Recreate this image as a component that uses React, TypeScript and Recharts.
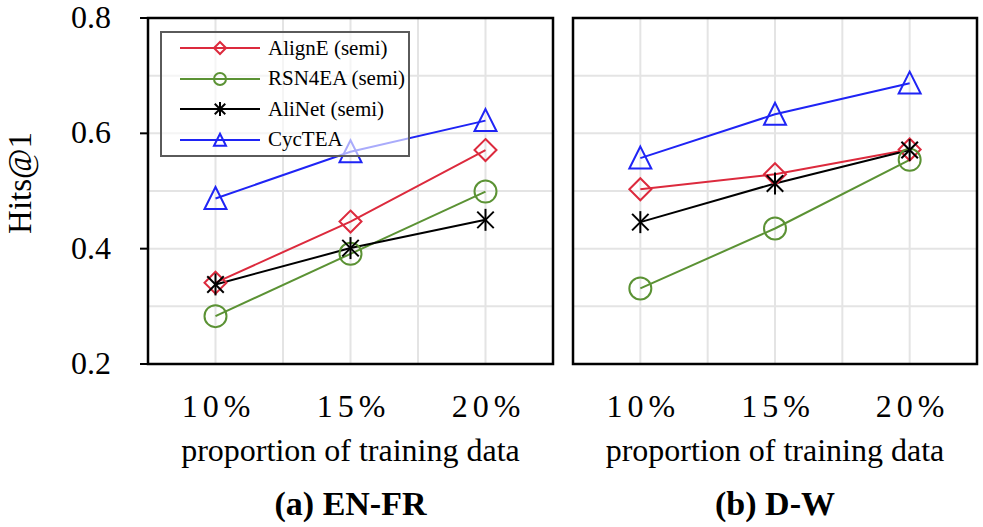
import React from "react";
import {
  LineChart,
  Line,
  XAxis,
  YAxis,
  CartesianGrid,
  Legend,
  ReferenceArea,
  Label,
} from "recharts";

const categories = ["10%", "15%", "20%"];
const xPositions = [1, 2, 3];
const xGridTicks = [1, 1.5, 2, 2.5, 3];
const yGridTicks = [0.2, 0.3, 0.4, 0.5, 0.6, 0.7, 0.8];
const yLabelTicks = [0.2, 0.4, 0.6, 0.8];

// (a) EN-FR
const enfrAlignE = [0.341, 0.447, 0.571];
const enfrRSN4EA = [0.283, 0.391, 0.499];
const enfrAliNet = [0.338, 0.401, 0.45];
const enfrCycTEA = [0.487, 0.568, 0.622];

// (b) D-W
const dwAlignE = [0.503, 0.529, 0.572];
const dwRSN4EA = [0.331, 0.435, 0.554];
const dwAliNet = [0.446, 0.513, 0.571];
const dwCycTEA = [0.557, 0.633, 0.687];

const FONT = "'Liberation Serif', 'DejaVu Serif', serif";

type MarkerKind = "diamond" | "circle" | "star" | "triangle";

const SERIES: { key: string; name: string; color: string; marker: MarkerKind }[] = [
  { key: "alignE", name: "AlignE (semi)", color: "#dc2a3d", marker: "diamond" },
  { key: "rsn4ea", name: "RSN4EA (semi)", color: "#5b9234", marker: "circle" },
  { key: "aliNet", name: "AliNet (semi)", color: "#000000", marker: "star" },
  { key: "cycTEA", name: "CycTEA", color: "#1f24f5", marker: "triangle" },
];

function buildRows(alignE: number[], rsn4ea: number[], aliNet: number[], cycTEA: number[]) {
  return xPositions.map((x, i) => ({
    x,
    label: categories[i],
    alignE: alignE[i],
    rsn4ea: rsn4ea[i],
    aliNet: aliNet[i],
    cycTEA: cycTEA[i],
  }));
}

const enfrRows = buildRows(enfrAlignE, enfrRSN4EA, enfrAliNet, enfrCycTEA);
const dwRows = buildRows(dwAlignE, dwRSN4EA, dwAliNet, dwCycTEA);

function Marker({ kind, cx, cy, color, r }: { kind: MarkerKind; cx: number; cy: number; color: string; r: number }) {
  if (cx == null || cy == null) return <g />;
  const common = { fill: "none", stroke: color, strokeWidth: 2 };
  switch (kind) {
    case "diamond":
      return <polygon points={`${cx},${cy - r} ${cx + r},${cy} ${cx},${cy + r} ${cx - r},${cy}`} {...common} />;
    case "circle":
      return <circle cx={cx} cy={cy} r={r} {...common} />;
    case "triangle":
      return (
        <polygon
          points={`${cx},${cy - r * 1.05} ${cx + r},${cy + r * 0.95} ${cx - r},${cy + r * 0.95}`}
          {...common}
        />
      );
    default: {
      const d = r * 0.75;
      return (
        <g stroke={color} strokeWidth={2}>
          <line x1={cx} y1={cy - r} x2={cx} y2={cy + r} />
          <line x1={cx - d} y1={cy - d} x2={cx + d} y2={cy + d} />
          <line x1={cx - d} y1={cy + d} x2={cx + d} y2={cy - d} />
        </g>
      );
    }
  }
}

const XTick = (props: any) => {
  const { x, y, payload } = props;
  const i = xPositions.indexOf(payload.value);
  if (i < 0) return <g />;
  return (
    <text x={x + 3} y={y + 53} textAnchor="middle" fontFamily={FONT} fontSize={32} letterSpacing={5} fill="#000">
      {categories[i]}
    </text>
  );
};

const YTick = (props: any) => {
  const { x, y, payload } = props;
  if (!yLabelTicks.some((t) => Math.abs(t - payload.value) < 1e-9)) return <g />;
  return (
    <g>
      <line x1={x - 8} y1={y} x2={x} y2={y} stroke="#000" strokeWidth={2} />
      <text x={x - 37} y={y + 10} textAnchor="end" fontFamily={FONT} fontSize={32} fill="#000">
        {payload.value.toFixed(1)}
      </text>
    </g>
  );
};

const EmptyTick = () => <g />;

const LegendBox = () => (
  <div
    style={{
      width: 250,
      height: 126,
      boxSizing: "border-box",
      border: "2px solid #5a5a5a",
      background: "rgba(255,255,255,0.62)",
      fontFamily: FONT,
      fontSize: 21,
      color: "#000",
    }}
  >
    {SERIES.map((s) => (
      <div key={s.key} style={{ height: 30.5, display: "flex", alignItems: "center" }}>
        <svg width={106} height={28} style={{ flexShrink: 0 }}>
          <line x1={18} y1={14} x2={98} y2={14} stroke={s.color} strokeWidth={2} />
          <Marker kind={s.marker} cx={58} cy={14} color={s.color} r={s.marker === "star" ? 7 : 6} />
        </svg>
        <span style={{ whiteSpace: "nowrap" }}>{s.name}</span>
      </div>
    ))}
  </div>
);

function Panel({
  rows,
  caption,
  width,
  withYAxis,
  withLegend,
}: {
  rows: ReturnType<typeof buildRows>;
  caption: string;
  width: number;
  withYAxis: boolean;
  withLegend: boolean;
}) {
  return (
    <LineChart
      width={width}
      height={527}
      data={rows}
      margin={{ top: 18, right: withYAxis ? 7 : 6, bottom: 0, left: 0 }}
    >
      <CartesianGrid stroke="#e4e4e4" strokeWidth={2} />
      <XAxis
        dataKey="x"
        type="number"
        domain={[0.5, 3.5]}
        ticks={xGridTicks}
        height={163}
        tickSize={0}
        tickMargin={0}
        axisLine={false}
        tickLine={false}
        tick={<XTick />}
        interval={0}
      >
        <Label
          content={(p: any) => {
            const vb = p.viewBox || {};
            const cx = (vb.x ?? 0) + (vb.width ?? 0) / 2;
            const top = vb.y ?? 364;
            return (
              <g fontFamily={FONT} fill="#000">
                <text x={cx} y={top + 97} textAnchor="middle" fontSize={32}>
                  proportion of training data
                </text>
                <text x={cx} y={top + 151} textAnchor="middle" fontSize={34} fontWeight="bold">
                  {caption}
                </text>
              </g>
            );
          }}
        />
      </XAxis>
      <YAxis
        type="number"
        domain={[0.2, 0.8]}
        ticks={yGridTicks}
        width={withYAxis ? 148 : 8}
        tickSize={0}
        tickMargin={0}
        axisLine={false}
        tickLine={false}
        tick={withYAxis ? <YTick /> : <EmptyTick />}
        interval={0}
      >
        {withYAxis && (
          <Label
            content={() => (
              <text
                x={0}
                y={0}
                transform="translate(31,183) rotate(-90)"
                textAnchor="middle"
                fontFamily={FONT}
                fontSize={33}
                fill="#000"
              >
                Hits@1
              </text>
            )}
          />
        )}
      </YAxis>
      <ReferenceArea
        x1={0.5}
        x2={3.5}
        y1={0.2}
        y2={0.8}
        fill="none"
        fillOpacity={0}
        stroke="#000"
        strokeWidth={2.5}
        ifOverflow="visible"
      />
      {SERIES.map((s) => (
        <Line
          key={s.key}
          dataKey={s.key}
          name={s.name}
          type="linear"
          stroke={s.color}
          strokeWidth={2}
          isAnimationActive={false}
          activeDot={false}
          dot={(p: any) => (
            <Marker key={`${s.key}-${p.index}`} kind={s.marker} cx={p.cx} cy={p.cy} color={s.color} r={11} />
          )}
        />
      ))}
      {withLegend && (
        <Legend
          layout="vertical"
          align="center"
          verticalAlign="middle"
          content={<LegendBox />}
          wrapperStyle={{ left: 160, top: 31, width: 250, height: 126 }}
        />
      )}
    </LineChart>
  );
}

export default function App() {
  return (
    <div style={{ position: "absolute", left: 0, top: 0, width: 983, height: 527, background: "#fff" }}>
      <div style={{ position: "absolute", left: 0, top: 0 }}>
        <Panel rows={enfrRows} caption="(a) EN-FR" width={560} withYAxis withLegend />
      </div>
      <div style={{ position: "absolute", left: 565, top: 0 }}>
        <Panel rows={dwRows} caption="(b) D-W" width={418} withYAxis={false} withLegend={false} />
      </div>
    </div>
  );
}
